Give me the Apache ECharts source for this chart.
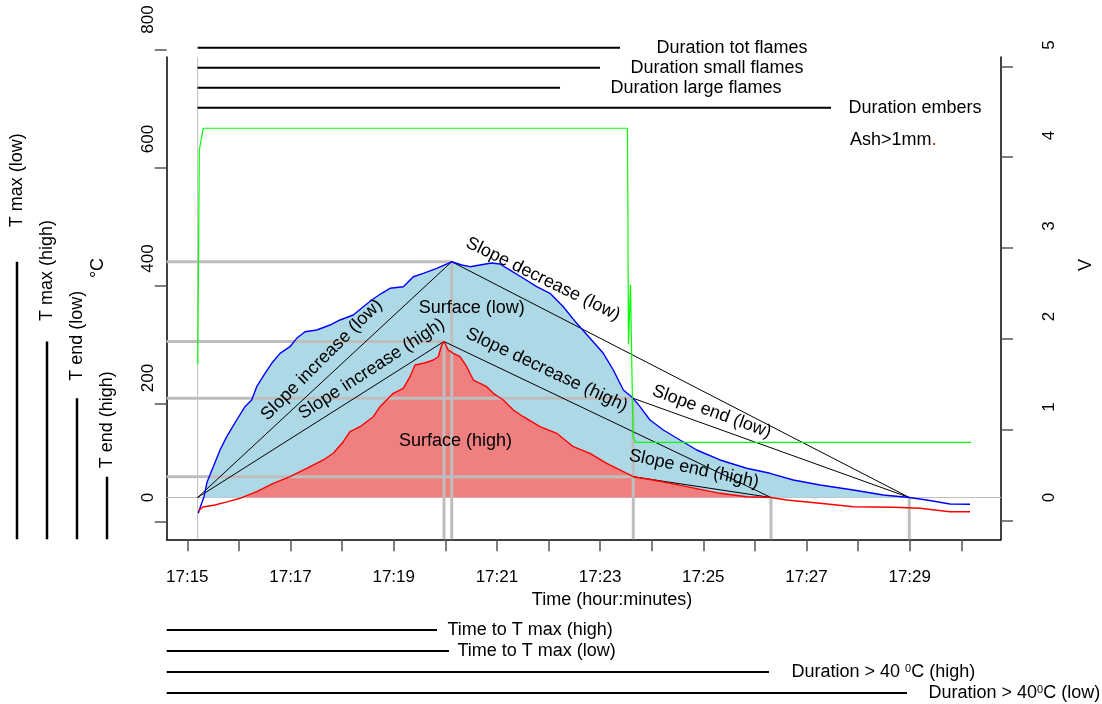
<!DOCTYPE html>
<html>
<head>
<meta charset="utf-8">
<script src="https://cdn.jsdelivr.net/npm/echarts@6/dist/echarts.min.js"></script>
<style>
  html, body { margin: 0; padding: 0; background: #ffffff; }
  #chart { width: 1102px; height: 704px; }
</style>
</head>
<body>
<div id="chart"></div>
<script>
// Time is in minutes after 17:00, temperatures in °C, logger signal in V.

// Low probe temperature [minute, °C]
const lowProbe = [
  [15.213,-26.4],[15.246,-17.6],[15.324,1.3],[15.383,25.9],[15.504,51.5],[15.634,79.5],[15.764,101.8],
  [15.957,129.7],[16.118,152.0],[16.248,163.2],[16.345,185.4],[16.506,207.9],[16.636,224.6],[16.797,241.3],
  [16.990,252.4],[17.120,266.4],[17.281,277.5],[17.508,280.3],[17.766,288.7],[17.959,297.1],[18.217,305.4],
  [18.411,319.3],[18.574,330.5],[18.767,341.8],[18.928,350.1],[19.186,352.8],[19.380,369.5],[19.574,375.2],
  [19.833,383.6],[20.058,392.0],[20.124,394.6],[20.318,389.1],[20.479,386.3],[20.672,389.1],[20.899,392.5],
  [21.060,390.8],[21.254,380.7],[21.512,366.9],[21.771,352.8],[22.029,341.8],[22.287,319.3],[22.546,291.5],
  [22.804,266.4],[23.062,241.3],[23.256,213.4],[23.450,179.9],[23.643,166.0],[23.773,152.0],[23.967,129.7],
  [24.225,113.0],[24.548,96.2],[24.872,79.5],[25.324,62.8],[25.841,48.9],[26.293,40.5],[26.744,29.3],
  [27.262,20.9],[27.907,12.6],[28.488,4.2],[28.992,0],[29.329,-4.2],[29.781,-10.9],[30.169,-11.4]
];

// High probe temperature [minute, °C]
const highProbe = [
  [15.213,-22.6],[15.304,-15.9],[15.537,-12.6],[15.789,-7.0],[16.021,-1.3],[16.345,9.7],[16.667,23.8],
  [16.990,34.8],[17.314,48.9],[17.636,62.8],[17.829,74.0],[18.023,93.4],[18.153,110.1],[18.347,118.5],
  [18.605,135.2],[18.734,152.0],[18.864,163.2],[18.992,174.4],[19.186,182.8],[19.316,202.2],[19.413,221.8],
  [19.574,224.6],[19.767,230.1],[19.864,235.6],[19.930,255.2],[19.975,261.1],[20.058,246.9],[20.155,241.3],
  [20.285,235.6],[20.415,218.9],[20.543,196.6],[20.672,191.1],[20.802,185.4],[20.930,174.4],[21.124,163.2],
  [21.318,146.4],[21.512,135.2],[21.835,118.5],[22.159,107.4],[22.481,85.0],[22.804,74.0],[23.128,57.2],
  [23.450,43.2],[23.643,34.8],[24.031,29.3],[24.678,18.1],[25.324,7.0],[25.841,1.3],[26.312,0],
  [26.616,-4.2],[27.262,-9.7],[27.907,-15.4],[28.682,-16.4],[29.199,-18.1],[29.781,-23.8],[30.169,-23.8]
];

// Flame sensor signal [minute, V]
const flameSignal = [
  [15.202,1.47],[15.233,3.84],[15.310,4.08],[23.531,4.08],[23.550,1.69],[23.589,2.35],
  [23.638,0.67],[23.686,0.61],[30.188,0.61]
];

// Key instants and temperatures
const fireStart = 15.2;
const peakLow = [20.124, 394.6];
const peakHigh = [19.975, 261.1];
const flameEnd = 23.643;
const endTempLow = 166.0;
const endTempHigh = 34.8;
const zeroLow = 28.992;
const zeroHigh = 26.312;

// Phase durations drawn above the plot (end minute)
const phaseNames = ['Duration tot flames', 'Duration small flames', 'Duration large flames', 'Duration embers'];
const phaseEnds = [23.386, 22.998, 22.223, 27.475];

// Durations drawn below the time axis (end minute)
const timingNames = ['Time to T max (high)', 'Time to T max (low)', 'Duration > 40 0C (high)', 'Duration > 400C (low)'];
const timingEnds = [19.839, 20.071, 26.273, 28.947];

// Temperature bars on the left
const tempMarkNames = ['T max (low)', 'T max (high)', 'T end (low)', 'T end (high)'];
const tempMarkValues = [394.6, 261.1, 166.0, 34.8];

// Axis ticks and labels
const minuteTicks = [15,16,17,18,19,20,21,22,23,24,25,26,27,28,29,30];
const minuteLabels = [15,17,19,21,23,25,27,29];
const tempLabels = [0, 200, 400, 600, 800];
const tempTicks = [-41, 156.5, 354, 551.5, 749];
const voltLabels = [0, 1, 2, 3, 4, 5];
const voltTicks = [-0.26, 0.745, 1.75, 2.755, 3.76, 4.765];

// ---- layout ----
const FONT = '"Liberation Sans", Arial, Helvetica, sans-serif';
const W = 1102, H = 704;
const PLOT = { left: 166.7, right: 1001, top: 57, bottom: 539.3 };
const LABEL_TOP = 10;
const X_ORIGIN_PX = 187.3, X_PX_PER_MIN = 51.6;
const T_ZERO_PX = 497.5, T_PX_PER_DEG = 0.5975;
const V_ZERO_PX = 497.5, V_PX_PER_V = 90.5;

const X_MIN = 15 + (PLOT.left - X_ORIGIN_PX) / X_PX_PER_MIN;
const X_MAX = 15 + (PLOT.right - X_ORIGIN_PX) / X_PX_PER_MIN;
const T_MIN = (T_ZERO_PX - PLOT.bottom) / T_PX_PER_DEG;
const T_MAX = (T_ZERO_PX - PLOT.top) / T_PX_PER_DEG;
const T_MAX_LBL = (T_ZERO_PX - LABEL_TOP) / T_PX_PER_DEG;
const V_MIN = (V_ZERO_PX - PLOT.bottom) / V_PX_PER_V;
const V_MAX = (V_ZERO_PX - PLOT.top) / V_PX_PER_V;
const V_MAX_LBL = (V_ZERO_PX - LABEL_TOP) / V_PX_PER_V;

const plotH = { left: PLOT.left, right: W - PLOT.right };
const noSplit = { show: false };

function segment(points, color, width, z, extra) {
  return Object.assign({
    type: 'line', data: points, symbol: 'none', showSymbol: false, silent: true,
    xAxisIndex: 0, yAxisIndex: 0, z: z,
    lineStyle: { color: color, width: width, cap: 'butt' }
  }, extra || {});
}

// a data point carrying a text label but no visible symbol
function labelledPoint(value, label) {
  return {
    value: value, symbol: 'circle', symbolSize: 1,
    itemStyle: { color: 'rgba(0,0,0,0)' },
    label: Object.assign({ show: true, color: '#000', fontSize: 18, fontFamily: FONT }, label)
  };
}

const series = [];

// thin reference lines: 0 °C and ignition time
series.push(segment([[X_MIN, 0], [X_MAX, 0]], '#BEBEBE', 1, 1));
series.push(segment([[fireStart, T_MIN], [fireStart, T_MAX]], '#BEBEBE', 1, 1));

// surfaces above 0 °C
series.push({
  type: 'line', data: lowProbe.map(p => [p[0], Math.max(0, p[1])]), symbol: 'none', silent: true, z: 2,
  lineStyle: { width: 0, opacity: 0 }, areaStyle: { color: '#ADD8E6', opacity: 1 }
});
series.push({
  type: 'line', data: highProbe.map(p => [p[0], Math.max(0, p[1])]), symbol: 'none', silent: true, z: 3,
  lineStyle: { width: 0, opacity: 0 }, areaStyle: { color: '#F08080', opacity: 1 }
});

// thick guides for maxima, end of flaming and return to 0
const grey = '#BEBEBE';
[[peakLow[0], peakLow[1]], [peakHigh[0], peakHigh[1]], [flameEnd, endTempLow], [flameEnd, endTempHigh]].forEach(p => {
  series.push(segment([[X_MIN, p[1]], [p[0], p[1]]], grey, 3, 4));
});
[[peakLow[0], peakLow[1]], [peakHigh[0], peakHigh[1]], [flameEnd, endTempLow], [zeroHigh, 0], [zeroLow, 0]].forEach(p => {
  series.push(segment([[p[0], p[1]], [p[0], T_MIN]], grey, 3, 4));
});

// slopes
const black = '#000000';
series.push(segment([[fireStart, 0], peakLow], black, 1, 5));
series.push(segment([[fireStart, 0], peakHigh], black, 1, 5));
series.push(segment([peakLow, [zeroLow, 0]], black, 1, 5));
series.push(segment([peakHigh, [zeroHigh, 0]], black, 1, 5));
series.push(segment([[flameEnd, endTempLow], [zeroLow, 0]], black, 1, 5));
series.push(segment([[flameEnd, endTempHigh], [zeroHigh, 0]], black, 1, 5));

// probe curves
series.push(segment(lowProbe, '#0000FF', 1.4, 6));
series.push(segment(highProbe, '#FF0000', 1.4, 6));

// flame sensor on the V axis
series.push(segment(flameSignal, '#00FF00', 1.2, 7, { yAxisIndex: 1 }));

// phase durations above the plot
const phaseGaps = [36, 30, 50, 17];
phaseNames.forEach((name, i) => {
  series.push({
    type: 'line', name: name, xAxisIndex: 2, yAxisIndex: 4, symbol: 'none', showSymbol: true, silent: true, z: 5,
    data: [[fireStart, name], labelledPoint([phaseEnds[i], name], {
      position: 'right', distance: phaseGaps[i], formatter: name
    })],
    lineStyle: { color: '#000', width: 2, cap: 'butt' }
  });
});

// durations below the time axis
const timingGaps = [10, 8, 22, 21];
const timingText = [
  'Time to T max (high)',
  'Time to T max (low)',
  '{n|Duration > 40 }{s|0}{n|C (high)}',
  '{n|Duration > 40}{s|0}{n|C (low)}'
];
timingNames.forEach((name, i) => {
  series.push({
    type: 'line', name: name, xAxisIndex: 3, yAxisIndex: 5, symbol: 'none', showSymbol: true, silent: true, z: 5,
    data: [[X_MIN, name], labelledPoint([timingEnds[i], name], {
      position: 'right', distance: timingGaps[i], formatter: () => timingText[i],
      rich: {
        n: { fontSize: 18, fontFamily: FONT, color: '#000' },
        s: { fontSize: 11, fontFamily: FONT, color: '#000', verticalAlign: 'top' }
      }
    })],
    lineStyle: { color: '#000', width: 2, cap: 'butt' }
  });
});

// temperature bars at the left margin
const tempGaps = [34, 20, 17, 8];
tempMarkNames.forEach((name, i) => {
  series.push({
    type: 'line', name: name, xAxisIndex: 4, yAxisIndex: 6, silent: true, z: 5,
    symbol: 'none', showSymbol: true,
    data: [
      [name, T_MIN],
      labelledPoint([name, tempMarkValues[i]], {
        position: 'top', distance: tempGaps[i], rotate: 90,
        align: 'left', verticalAlign: 'middle', formatter: name
      })
    ],
    lineStyle: { color: '#000', width: 2.5, cap: 'butt' }
  });
});

function txt(x, y, text, deg, extra) {
  return Object.assign({
    type: 'text', x: x, y: y, rotation: (deg || 0) * Math.PI / 180, silent: true, z: 50,
    style: Object.assign({
      text: text, fill: '#000', font: '18px ' + FONT,
      align: 'center', verticalAlign: 'middle', textAlign: 'center', textVerticalAlign: 'middle'
    }, extra || {})
  });
}

const option = {
  animation: false,
  backgroundColor: '#ffffff',
  textStyle: { fontFamily: FONT },
  grid: [
    { left: plotH.left, right: plotH.right, top: PLOT.top, bottom: H - PLOT.bottom },
    { left: plotH.left, right: plotH.right, top: LABEL_TOP, bottom: H - PLOT.bottom },
    { left: plotH.left, right: plotH.right, top: 37.7, height: 80 },
    { left: plotH.left, right: plotH.right, top: 619.5, height: 84 },
    { left: 2, width: 120, top: PLOT.top, bottom: H - PLOT.bottom }
  ],
  xAxis: [
    {
      type: 'value', gridIndex: 0, min: X_MIN, max: X_MAX,
      axisLine: { show: true, onZero: false, lineStyle: { color: '#000', width: 1.5 } },
      axisTick: { show: true, customValues: minuteTicks, length: 12, lineStyle: { color: '#555', width: 1.5 } },
      axisLabel: {
        customValues: minuteLabels, margin: 30, color: '#000', fontSize: 17, fontFamily: FONT,
        formatter: v => '17:' + String(Math.round(v)).padStart(2, '0')
      },
      splitLine: noSplit
    },
    { type: 'value', gridIndex: 1, min: X_MIN, max: X_MAX, show: false },
    { type: 'value', gridIndex: 2, min: X_MIN, max: X_MAX, show: false },
    { type: 'value', gridIndex: 3, min: X_MIN, max: X_MAX, show: false },
    { type: 'category', gridIndex: 4, data: tempMarkNames, show: false, boundaryGap: true }
  ],
  yAxis: [
    {
      type: 'value', gridIndex: 0, position: 'left', min: T_MIN, max: T_MAX,
      axisLine: { show: true, onZero: false, lineStyle: { color: '#000', width: 1.5 } },
      axisTick: { show: false }, axisLabel: { show: false }, splitLine: noSplit
    },
    {
      type: 'value', gridIndex: 0, position: 'right', min: V_MIN, max: V_MAX,
      axisLine: { show: true, onZero: false, lineStyle: { color: '#000', width: 1.5 } },
      axisTick: { show: false }, axisLabel: { show: false }, splitLine: noSplit
    },
    {
      type: 'value', gridIndex: 1, position: 'left', min: T_MIN, max: T_MAX_LBL,
      axisLine: { show: false, onZero: false },
      axisTick: { show: true, customValues: tempTicks, length: 12, lineStyle: { color: '#555', width: 1.5 } },
      axisLabel: { customValues: tempLabels, rotate: 90, margin: 10, color: '#000', fontSize: 17, fontFamily: FONT },
      splitLine: noSplit
    },
    {
      type: 'value', gridIndex: 1, position: 'right', min: V_MIN, max: V_MAX_LBL,
      axisLine: { show: false, onZero: false },
      axisTick: { show: true, customValues: voltTicks, length: 12, lineStyle: { color: '#555', width: 1.5 } },
      axisLabel: { customValues: voltLabels, rotate: 90, margin: 40, color: '#000', fontSize: 17, fontFamily: FONT },
      splitLine: noSplit
    },
    { type: 'category', gridIndex: 2, data: phaseNames, inverse: true, show: false },
    { type: 'category', gridIndex: 3, data: timingNames, inverse: true, show: false },
    { type: 'value', gridIndex: 4, min: T_MIN, max: T_MAX, show: false }
  ],
  series: series,
  graphic: [
    txt(612, 600, 'Time (hour:minutes)'),
    txt(98, 268, '°C', 90),
    txt(1086, 265, 'V', 90),
    txt(321.7, 360, 'Slope increase (low)', 45),
    txt(371.7, 369, 'Slope increase (high)', 33),
    txt(543, 279, 'Slope decrease (low)', -26),
    txt(546.7, 370, 'Slope decrease (high)', -25),
    txt(711.7, 411.7, 'Slope end (low)', -20),
    txt(694, 469, 'Slope end (high)', -12),
    txt(471.7, 308.3, 'Surface (low)'),
    txt(455.5, 441, 'Surface (high)'),
    txt(850, 140, '{a|Ash>1mm}{b|.}', 0, {
      align: 'left', textAlign: 'left',
      rich: { a: { fill: '#000', font: '18px ' + FONT }, b: { fill: '#FF0000', font: '18px ' + FONT } }
    })
  ]
};

const chart = echarts.init(document.getElementById('chart'), null, { renderer: 'canvas', width: W, height: H });
chart.setOption(option);
</script>
</body>
</html>
